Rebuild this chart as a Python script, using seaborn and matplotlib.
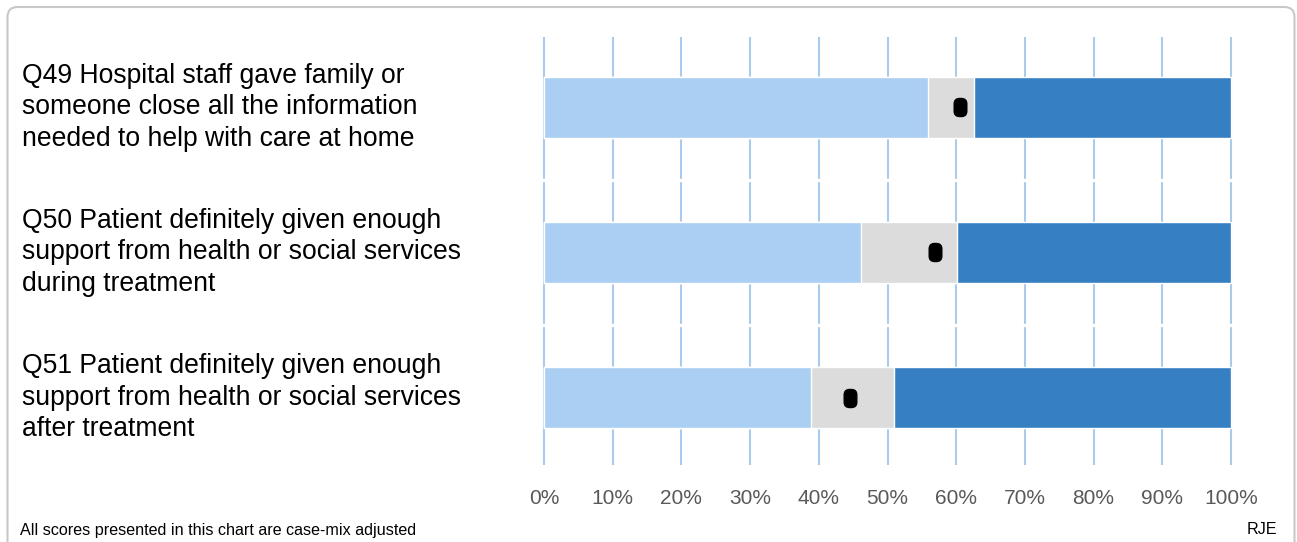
import matplotlib
matplotlib.use('Agg')
import matplotlib.pyplot as plt
import matplotlib.transforms as mtransforms
from matplotlib.patches import FancyBboxPatch
import pandas as pd
import seaborn as sns

# data (percent)
perguntas = [
    'Q49 Hospital staff gave family or\nsomeone close all the information\nneeded to help with care at home',
    'Q50 Patient definitely given enough\nsupport from health or social services\nduring treatment',
    'Q51 Patient definitely given enough\nsupport from health or social services\nafter treatment',
]
limite_inferior = [55.9, 46.2, 38.9]   # end of light blue band
limite_superior = [62.6, 60.1, 51.0]   # end of grey band
pontuacao = [60.6, 56.9, 44.5]         # black marker
total = [100, 100, 100]
rotulos_x = ['0%', '10%', '20%', '30%', '40%', '50%', '60%', '70%', '80%', '90%', '100%']

cor_clara = '#aacff3'
cor_cinza = '#dddcdc'
cor_escura = '#367fc3'
cor_grade = '#aacbeb'

sns.set_theme(style='white')
plt.rcParams['font.family'] = ['Liberation Sans', 'DejaVu Sans']

dados = pd.DataFrame({'pergunta': perguntas, 'inferior': limite_inferior,
                      'superior': limite_superior, 'pontuacao': pontuacao, 'total': total})

fig = plt.figure(figsize=(12.97, 5.42), dpi=100)
ax = fig.add_axes([530.3 / 1297, 1 - 465 / 542, (1244.7 - 530.3) / 1297, 428 / 542])

# stacked bars: draw the longest first
largura = 0.42
sns.barplot(data=dados, x='total', y='pergunta', orient='h', color=cor_escura,
            width=largura, saturation=1, ax=ax, errorbar=None)
sns.barplot(data=dados, x='superior', y='pergunta', orient='h', color=cor_cinza,
            width=largura, saturation=1, ax=ax, errorbar=None)
sns.barplot(data=dados, x='inferior', y='pergunta', orient='h', color=cor_clara,
            width=largura, saturation=1, ax=ax, errorbar=None)

# rounded black marker
caixa = FancyBboxPatch((-0.35, -0.5), 0.7, 1.0, boxstyle='round,pad=0,rounding_size=0.3')
marcador = caixa.get_path()
ax.plot(dados['pontuacao'], range(len(perguntas)), ls='none', marker=marcador,
        ms=13, color='black', mec='black', zorder=5)

ax.set_xlim(-2, 102)
ax.set_ylim(2.465, -0.485)
ax.set_xticks(range(0, 101, 10))
ax.set_xticklabels(rotulos_x, fontsize=15, color='#595959')
ax.tick_params(axis='x', length=0, pad=17)
ax.set_yticks([])
ax.set_xlabel('')
ax.set_ylabel('')
ax.set_axisbelow(True)
ax.xaxis.grid(True, color=cor_grade, linewidth=1.5)
for lado in ax.spines.values():
    lado.set_visible(False)
# small breaks in the gridlines between categories
for y in [0.5, 1.5]:
    ax.axhline(y, color='white', linewidth=2.4, zorder=1)

# question labels on the left
trans = mtransforms.blended_transform_factory(fig.transFigure, ax.transData)
for i, texto in enumerate(perguntas):
    ax.text(22 / 1297, i, texto, transform=trans, ha='left', va='center',
            fontsize=19.1, color='black', linespacing=1.28)

fig.text(20 / 1297, 1 - 530 / 542, 'All scores presented in this chart are case-mix adjusted',
         fontsize=11.6, color='black', ha='left', va='center')
fig.text(1277 / 1297, 1 - 530 / 542, 'RJE', fontsize=11.6, color='black', ha='right', va='center')

# rounded frame around the chart
moldura = FancyBboxPatch((7.5, -20), 1287, 535 + 20, boxstyle='round,pad=0,rounding_size=10',
                         transform=mtransforms.IdentityTransform(), facecolor='none',
                         edgecolor='#c8c8c8', linewidth=1.5)
fig.patches.append(moldura)

fig.savefig('out.png', dpi=100)
